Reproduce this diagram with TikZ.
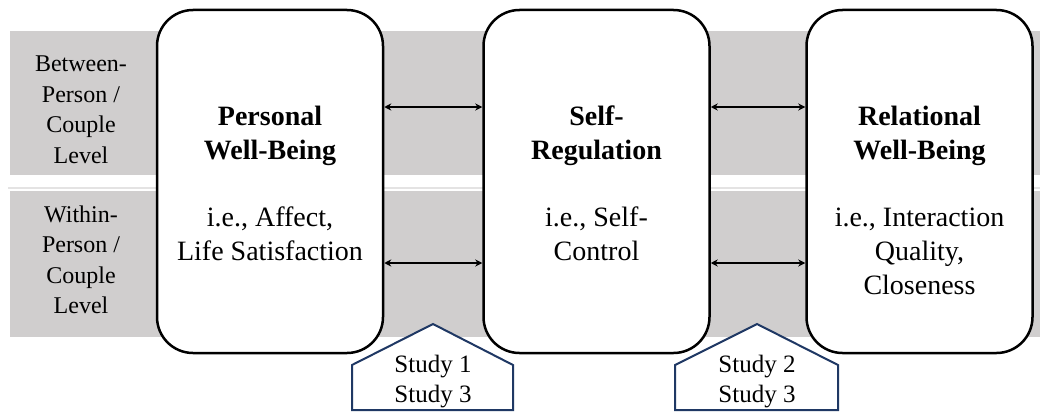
\documentclass[tikz,border=0pt]{standalone}
\usepackage{fontspec}
\setmainfont{Liberation Serif}
\usetikzlibrary{arrows.meta}
\definecolor{bandgray}{HTML}{D0CECE}
\definecolor{bandline}{HTML}{E4E3E3}
\definecolor{navy}{HTML}{1F3864}
\begin{document}
\begin{tikzpicture}[x=1pt,y=-1pt,
  mainbox/.style={draw=black, fill=white, line width=2.5pt, rounded corners=36pt,
    minimum width=226pt, minimum height=343pt, inner sep=0pt},
  boxtext/.style={align=center, anchor=north, inner sep=0pt, font=\fontsize{28}{34}\selectfont},
  lvl/.style={align=center, anchor=north, inner sep=0pt, font=\fontsize{24}{30.5}\selectfont},
  biarrow/.style={{Stealth[length=7pt,width=7pt]}-{Stealth[length=7pt,width=7pt]}, line width=1.5pt},
  studybox/.style={draw=navy, fill=white, line width=2pt, line join=miter},
  studytext/.style={align=center, anchor=north, inner sep=0pt, font=\fontsize{25}{30}\selectfont}]

\useasboundingbox (0,0) rectangle (1044,412);
\fill[white] (0,0) rectangle (1044,412);

% level bands
\fill[bandgray] (10,31) rectangle (1040,175);
\draw[line width=2pt, bandline] (8,187.5) -- (1040,187.5);
\fill[bandgray] (10,191) rectangle (1040,337);

% level labels
\node[lvl] (between) at (81,56) {Between-\\Person /\\Couple\\Level};
\node[lvl] (within) at (81,205.5) {Within-\\Person /\\Couple\\Level};

% main boxes
\node[mainbox] (pwb) at (270,181.5) {};
\node[mainbox] (sr) at (596.5,181.5) {};
\node[mainbox] (rwb) at (919.5,181.5) {};

\node[boxtext] (pwbt) at (270,106) {\textbf{Personal}\\\textbf{Well-Being}\\[33pt]i.e., Affect,\\Life Satisfaction};
\node[boxtext] (srt) at (596.5,106) {\textbf{Self-}\\\textbf{Regulation}\\[33pt]i.e., Self-\\Control};
\node[boxtext] (rwbt) at (919.5,106) {\textbf{Relational}\\\textbf{Well-Being}\\[33pt]i.e., Interaction\\Quality,\\Closeness};

% arrows
\coordinate (r1) at (0,107);
\coordinate (r2) at (0,263);
\draw[biarrow] (pwb.east |- r1) -- (sr.west |- r1);
\draw[biarrow] (pwb.east |- r2) -- (sr.west |- r2);
\draw[biarrow] (sr.east |- r1) -- (rwb.west |- r1);
\draw[biarrow] (sr.east |- r2) -- (rwb.west |- r2);

% study markers
\draw[studybox] (433,324) -- (513,365) -- (513,410) -- (352,410) -- (352,365) -- cycle;
\node[studytext] (s13) at (433,355) {Study 1\\Study 3};
\draw[studybox] (757,324) -- (838,365) -- (838,410) -- (675,410) -- (675,365) -- cycle;
\node[studytext] (s23) at (757,355) {Study 2\\Study 3};
\end{tikzpicture}
\end{document}
